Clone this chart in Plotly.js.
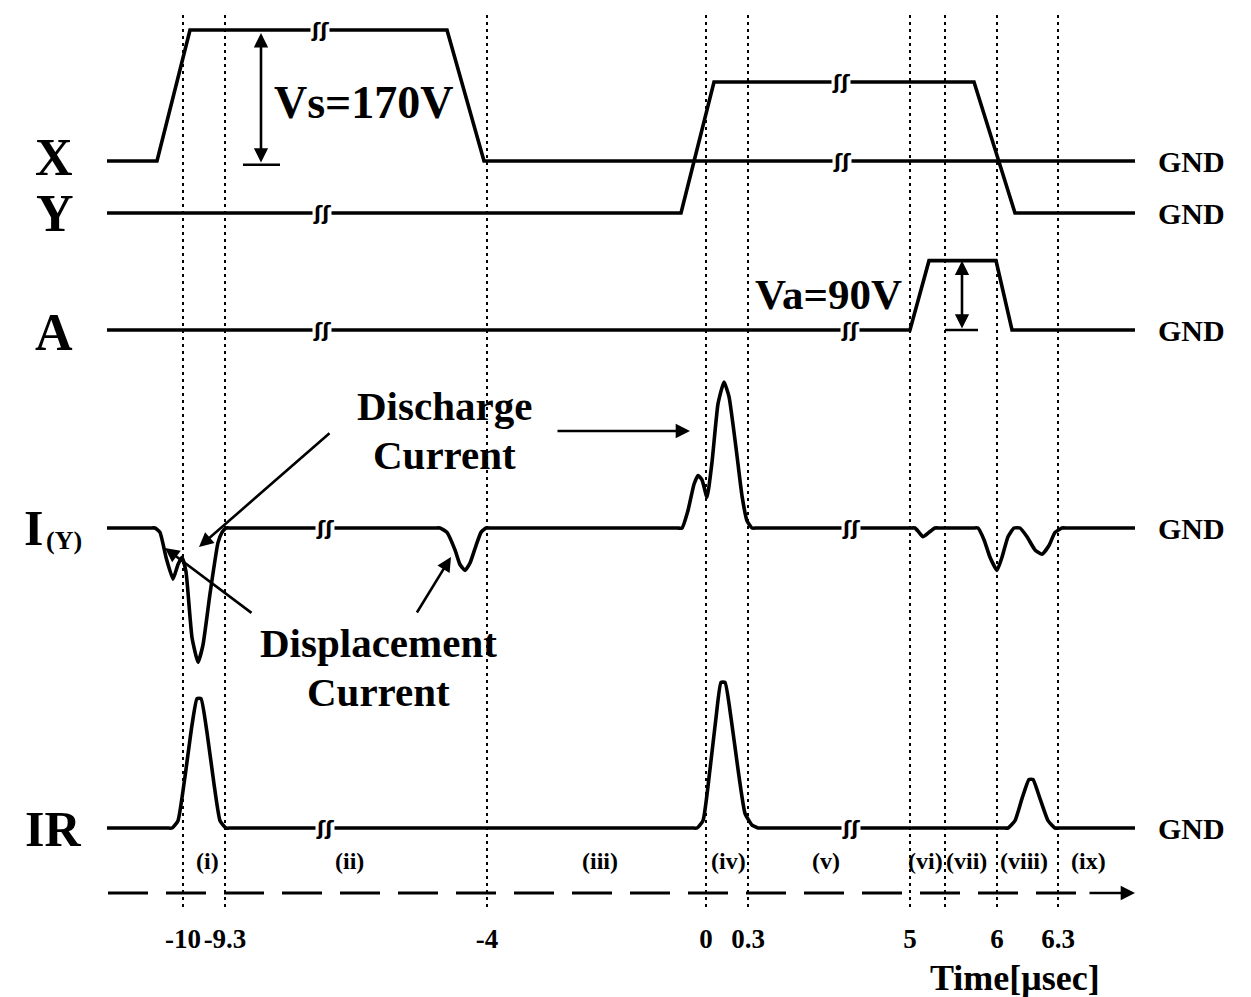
<!DOCTYPE html>
<html>
<head>
<meta charset="utf-8">
<script src="https://cdn.plot.ly/plotly-3.0.1.min.js"></script>
<style>html,body{margin:0;padding:0;background:#fff;}#chart{width:1251px;height:997px;}</style>
</head>
<body>
<div id="chart"></div>
<script>
// ---------------- DATA ----------------
// time markers (position along the diagram's broken time axis) and their labels
const timeMarkerPos = [183, 225, 487, 706, 748, 910, 945, 997, 1058];
const timeMarkerText = ['-10', '-9.3', '-4', '0', '0.3', '5', '', '6', '6.3'];

// period names
const periodNames = ['(i)', '(ii)', '(iii)', '(iv)', '(v)', '(vi)', '(vii)', '(viii)', '(ix)'];
const periodPos = [207, 349, 600, 728, 826, 925, 966, 1024, 1088];

// Sustain voltage on X electrode [V]
const xPos = [107, 157, 190, 447, 484, 1135];
const xVolt = [0, 0, 170, 170, 0, 0];

// Y electrode [V]
const yPos = [107, 681, 714, 974, 1015, 1135];
const yVolt = [0, 0, 170, 170, 0, 0];

// Address electrode [V]
const aPos = [107, 910, 929, 996, 1012, 1135];
const aVolt = [0, 0, 90, 90, 0, 0];

// Current through Y electrode (a.u.)
const iyPos = [107, 150, 155, 160, 166, 173, 178, 182, 186, 192, 198, 203, 210, 218, 222, 226, 231,
               435, 440, 447, 455, 460, 465, 470, 476, 481, 486, 491,
               677, 682, 688, 694, 698, 702, 707, 712, 718, 724, 729, 736, 742, 747, 752, 757,
               910, 915, 919, 923, 929, 935, 940, 973, 978, 984, 990, 997, 1002, 1008, 1014, 1020, 1027, 1035, 1042, 1049, 1055, 1062, 1067, 1135];
const iyVal = [0, 0, 0, -3, -20, -35, -25, -20, -30, -75, -92, -80, -45, -10, -3, 0, 0,
               0, 0, -3, -15, -25, -29, -24, -12, -3, 0, 0,
               0, 0, 12, 30, 36, 33, 21, 45, 85, 100, 90, 55, 22, 5, 0, 0,
               0, 0, -3, -6, -3, 0, 0, 0, 0, -8, -20, -29, -20, -6, 0, 0, -6, -15, -18, -12, -3, 0, 0, 0];

// IR emission (a.u.)
const irPos = [107, 167, 172, 178, 185, 192, 197, 201, 207, 214, 220, 226, 231,
               692, 697, 703, 710, 716, 721, 725, 731, 738, 745, 752, 758, 763,
               1003, 1008, 1015, 1022, 1029, 1033, 1040, 1048, 1055, 1060, 1135];
const irVal = [0, 0, 0, 5, 35, 70, 88, 88, 65, 30, 5, 0, 0,
               0, 0, 5, 40, 75, 99, 99, 75, 40, 10, 2, 0, 0,
               0, 0, 5, 20, 33, 33, 20, 5, 0, 0, 0];

// voltage amplitudes indicated on the diagram
const vsValue = 170;
const vaValue = 90;

// axis breaks (position, level) for each signal
const breaksX = [[320, 170], [842, 0]];
const breaksY = [[322, 0], [841, 170]];
const breaksA = [[322, 0], [850, 0]];
const breaksIY = [[325, 0], [851, 0]];
const breaksIR = [[325, 0], [851, 0]];

// ---------------- LAYOUT HELPERS ----------------
const PLOT_TOP = 15, PLOT_BOTTOM = 910;
function rowAxis(basePx, pxPerUnit) {
  return {
    range: [(basePx - PLOT_BOTTOM) / pxPerUnit, (basePx - PLOT_TOP) / pxPerUnit],
    overlaying: 'y', visible: false, showgrid: false, zeroline: false, fixedrange: true
  };
}
const voltScale = 131 / 170;   // px per volt
const serif = 'Liberation Serif, Times New Roman, serif';
const black = '#000';

const lineStyle = {color: black, width: 3.6};
const smoothStyle = {color: black, width: 3.6, shape: 'spline', smoothing: 0.45};

const traces = [
  {x: xPos, y: xVolt, yaxis: 'y2', mode: 'lines', line: lineStyle, hoverinfo: 'skip'},
  {x: yPos, y: yVolt, yaxis: 'y3', mode: 'lines', line: lineStyle, hoverinfo: 'skip'},
  {x: aPos, y: aVolt, yaxis: 'y4', mode: 'lines', line: lineStyle, hoverinfo: 'skip'},
  {x: iyPos, y: iyVal, yaxis: 'y5', mode: 'lines', line: smoothStyle, hoverinfo: 'skip'},
  {x: irPos, y: irVal, yaxis: 'y6', mode: 'lines', line: smoothStyle, hoverinfo: 'skip'}
];

const ann = [];
function txt(text, x, y, size, extra) {
  ann.push(Object.assign({
    text: '<b>' + text + '</b>', x: x, y: y, xref: 'x', yref: 'y',
    showarrow: false, xanchor: 'center', yanchor: 'middle',
    font: {family: serif, size: size, color: black}
  }, extra || {}));
}

// row labels (pixel-scale overlay axis 'y')
txt('X', 54, 157, 52);
txt('Y', 55, 213, 52);
txt('A', 54, 332, 52);
txt('I', 33, 528, 50);
txt('(Y)', 64, 540, 26);
txt('IR', 53, 829, 50);

// GND labels on each row
['y2', 'y3', 'y4', 'y5', 'y6'].forEach(function (ax) {
  ann.push({text: '<b>GND</b>', x: 1191, y: 0, xref: 'x', yref: ax, showarrow: false,
            xanchor: 'center', yanchor: 'middle', font: {family: serif, size: 30, color: black}});
});

// amplitude labels
txt('Vs=170V', 364, 102, 46);
txt('Va=90V', 828, 294, 43);

// text labels for currents
txt('Discharge', 444, 406, 41);
txt('Current', 444, 455, 41);
txt('Displacement', 378, 643, 41);
txt('Current', 378, 692, 41);

// period labels
periodNames.forEach(function (n, i) { txt(n, periodPos[i], 861, 24); });

// Time axis title
ann.push({text: '<b>Time[μsec]</b>', x: 1015, y: -0.076, xref: 'x', yref: 'paper', showarrow: false,
          xanchor: 'center', yanchor: 'middle', font: {family: serif, size: 36, color: black}});

// arrows
function arrow(hx, hy, tx, ty, yref, both) {
  ann.push({x: hx, y: hy, ax: tx, ay: ty, xref: 'x', yref: yref, axref: 'x', ayref: yref,
            text: '', showarrow: true, arrowhead: 2, arrowsize: 1.1, arrowwidth: 2.6,
            arrowcolor: black, arrowside: both ? 'end+start' : 'end', standoff: 0, startstandoff: 0});
}
arrow(261, vsValue - 4, 261, -4, 'y2', true);
arrow(962, vaValue, 962, 0, 'y4', true);
arrow(199, 547, 331, 432, 'y', false);
arrow(690, 431, 556, 431, 'y', false);
arrow(165, 548, 253, 614, 'y', false);
arrow(451, 557, 416, 614, 'y', false);
// time-axis arrow head
arrow(1135, 893, 1088, 893, 'y', false);

// breaks
function addBreaks(list, ax) {
  list.forEach(function (b) {
    ann.push({text: '<b>ʃʃ</b>', x: b[0], y: b[1], xref: 'x', yref: ax, showarrow: false,
              xanchor: 'center', yanchor: 'middle', bgcolor: '#fff', borderpad: 0,
              font: {family: 'DejaVu Sans', size: 20, color: black}});
  });
}
addBreaks(breaksX, 'y2');
addBreaks(breaksY, 'y3');
addBreaks(breaksA, 'y4');
addBreaks(breaksIY, 'y5');
addBreaks(breaksIR, 'y6');

const shapes = [
  // base ticks of the amplitude arrows
  {type: 'line', xref: 'x', yref: 'y2', x0: 243, x1: 280, y0: -5, y1: -5, line: {color: black, width: 2.5}},
  {type: 'line', xref: 'x', yref: 'y4', x0: 945, x1: 978, y0: 0, y1: 0, line: {color: black, width: 2.5}},
  // dashed time axis
  {type: 'line', xref: 'x', yref: 'y', x0: 108, x1: 1088, y0: 893, y1: 893, line: {color: black, width: 3, dash: '40px,18px'}}
];

const layout = {
  width: 1251, height: 997,
  margin: {l: 0, r: 0, t: PLOT_TOP, b: 997 - PLOT_BOTTOM},
  paper_bgcolor: '#fff', plot_bgcolor: '#fff', showlegend: false,
  xaxis: {
    range: [0, 1251], tickmode: 'array', tickvals: timeMarkerPos,
    ticktext: timeMarkerText.map(function (t) { return t ? '<b>' + t + '</b>' : ''; }),
    showgrid: true, gridcolor: black, gridwidth: 2, griddash: '3px,4px',
    zeroline: false, showline: false, ticks: '', ticklabelstandoff: 10, tickangle: 0,
    tickfont: {family: serif, size: 27, color: black}, fixedrange: true
  },
  yaxis: {range: [PLOT_BOTTOM, PLOT_TOP], visible: false, showgrid: false, zeroline: false, fixedrange: true},
  yaxis2: rowAxis(161, voltScale),
  yaxis3: rowAxis(213, voltScale),
  yaxis4: rowAxis(330, voltScale),
  yaxis5: rowAxis(528, 1.46),
  yaxis6: rowAxis(828, 1.47),
  annotations: ann,
  shapes: shapes
};

Plotly.newPlot('chart', traces, layout, {staticPlot: true, displayModeBar: false});
</script>
</body>
</html>
